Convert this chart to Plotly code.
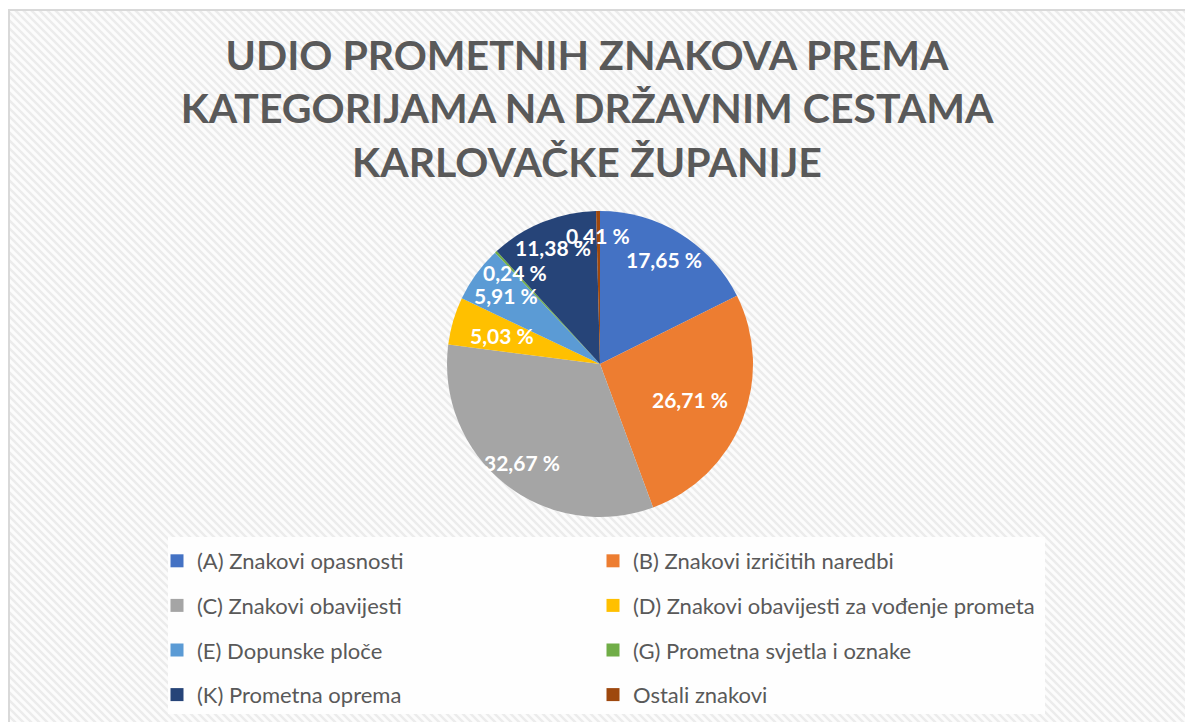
import math
import base64
import plotly.graph_objects as go

# ---- data ----
categories = [
    "(A) Znakovi opasnosti",
    "(B) Znakovi izričitih naredbi",
    "(C) Znakovi obavijesti",
    "(D) Znakovi obavijesti za vođenje prometa",
    "(E) Dopunske ploče",
    "(G) Prometna svjetla i oznake",
    "(K) Prometna oprema",
    "Ostali znakovi",
]
shares = [17.65, 26.71, 32.67, 5.03, 5.91, 0.24, 11.38, 0.41]
colors = ["#4472C4", "#ED7D31", "#A5A5A5", "#FFC000",
          "#5B9BD5", "#70AD47", "#264478", "#9E480E"]
title_lines = [
    "UDIO PROMETNIH ZNAKOVA PREMA",
    "KATEGORIJAMA NA DRŽAVNIM CESTAMA",
    "KARLOVAČKE ŽUPANIJE",
]
# radial placement (fraction of radius) of each data label
label_radius = [0.80, 0.63, 0.82, 0.67, 0.76, 0.82, 0.82, 0.84]

OFF = 8                     # page body margin around the figure
W, H = 1193 - OFF, 722 - OFF
FONT = "Lato"
TXT = "#595959"


def fx(p):  # page px -> paper x
    return (p - OFF) / W


def fy(p):  # page px -> paper y
    return 1 - (p - OFF) / H


cx, cy, R = 600, 364, 153  # pie centre / radius (page px)

fig = go.Figure()

fig.add_trace(go.Pie(
    labels=categories, values=shares, sort=False, direction="clockwise",
    rotation=0, marker=dict(colors=colors, line=dict(width=0)),
    textinfo="none", hoverinfo="label+percent", showlegend=False,
    domain=dict(x=[fx(cx - R), fx(cx + R)], y=[fy(cy + R), fy(cy - R)]),
))

# legend entries (two columns)
left_col = [0, 2, 4, 6]
for i, name in enumerate(categories):
    fig.add_trace(go.Scatter(
        x=[None], y=[None], mode="markers", name=name,
        marker=dict(symbol="square", size=13, color=colors[i]),
        legendgroup=f"g{i}",
        legend="legend" if i in left_col else "legend2",
        hoverinfo="skip",
    ))

# data labels computed from the cumulative shares
total = sum(shares)
annotations = []
cum = 0.0
for i, v in enumerate(shares):
    mid = (cum + v / 2) / total * 2 * math.pi
    cum += v
    r = R * label_radius[i]
    px = cx + r * math.sin(mid)
    py = cy - r * math.cos(mid)
    annotations.append(dict(
        x=fx(px), y=fy(py), xref="paper", yref="paper",
        text=f"<b>{v:.2f}".replace(".", ",") + " %</b>",
        showarrow=False, font=dict(family=FONT, size=21, color="white"),
        xanchor="center", yanchor="middle",
    ))

# hatched background pattern as inline SVG
bx0, by0 = 7, 10
bw, bh = 1193 - bx0, 722 - by0
svg = (
    f'<svg xmlns="http://www.w3.org/2000/svg" width="{bw}" height="{bh}" '
    f'viewBox="0 0 {bw} {bh}" preserveAspectRatio="none">'
    '<defs><pattern id="p" width="8" height="8" patternUnits="userSpaceOnUse">'
    '<rect width="8" height="8" fill="#fcfcfc"/>'
    '<path d="M-2,-2 L10,10 M-2,6 L2,10 M6,-2 L10,2" stroke="#ececec" stroke-width="2.4"/>'
    '</pattern></defs>'
    f'<rect width="{bw}" height="{bh}" fill="url(#p)"/></svg>'
)
uri = "data:image/svg+xml;base64," + base64.b64encode(svg.encode()).decode()

legend_common = dict(
    yanchor="top", xanchor="left", bgcolor="rgba(0,0,0,0)", tracegroupgap=13,
    font=dict(family=FONT, size=22, color=TXT),
    itemclick=False, itemdoubleclick=False,
)

fig.update_layout(
    width=W, height=H,
    margin=dict(l=0, r=0, t=0, b=0),
    paper_bgcolor="white", plot_bgcolor="rgba(0,0,0,0)",
    xaxis=dict(visible=False), yaxis=dict(visible=False),
    title=dict(
        text="<br>".join(title_lines), x=fx(587), xanchor="center",
        y=1 - 62 / H, yanchor="top", yref="container",
        font=dict(family=FONT, size=41, color=TXT, weight="bold"),
    ),
    images=[dict(source=uri, xref="paper", yref="paper",
                 x=fx(bx0), y=fy(by0), sizex=bw / W, sizey=bh / H,
                 sizing="stretch", layer="below")],
    shapes=[
        dict(type="rect", xref="paper", yref="paper", layer="below",
             x0=fx(168), x1=fx(1045), y0=fy(714), y1=fy(537),
             fillcolor="#fefefe", line=dict(width=0)),
        dict(type="rect", xref="paper", yref="paper", layer="above",
             x0=fx(9), x1=1.02, y0=-0.02, y1=fy(10),
             fillcolor="rgba(0,0,0,0)", line=dict(color="#d9d9d9", width=2)),
    ],
    annotations=annotations,
    legend=dict(x=fx(157), y=fy(540), **legend_common),
    legend2=dict(x=fx(593), y=fy(540), **legend_common),
)

fig.write_html("out.html")
